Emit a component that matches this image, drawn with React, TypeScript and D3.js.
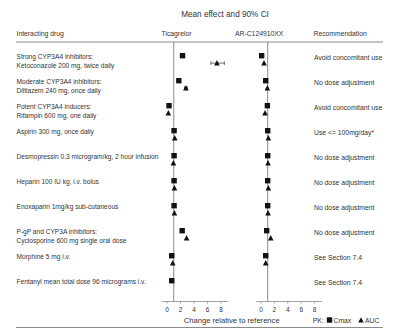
import React from "react";
import * as d3 from "d3";

const drugs: string[][] = [
  ["Strong CYP3A4 inhibitors:", "Ketoconazole 200 mg, twice daily"],
  ["Moderate CYP3A4 inhibitors:", "Diltiazem 240 mg, once daily"],
  ["Potent CYP3A4 inducers:", "Rifampin 600 mg, one daily"],
  ["Aspirin 300 mg, once daily"],
  ["Desmopressin 0.3  microgram/kg, 2 hour infusion"],
  ["Heparin 100 IU kg, i.v. bolus"],
  ["Enoxaparin 1mg/kg sub-cutaneous"],
  ["P-gP and CYP3A inhibitors:", "Cyclosporine 600 mg single oral dose"],
  ["Morphine 5 mg i.v."],
  ["Fentanyl mean total dose 96 micrograms i.v."],
];

const recommendations = [
  "Avoid concomitant use",
  "No dose adjustment",
  "Avoid concomitant use",
  "Use <= 100mg/day*",
  "No dose adjustment",
  "No dose adjustment",
  "No dose adjustment",
  "No dose adjustment",
  "See Section 7.4",
  "See Section 7.4",
];

// Ticagrelor (left panel); null = not shown
const ticaCmax = [2.3, 1.75, 0.3, 1.05, 1.05, 1.05, 1.05, 2.25, 0.7, 0.7];
const ticaAuc: (number | null)[] = [7.4, 2.8, 0.2, 1.15, 0.95, 1.1, 1.1, 2.9, 0.85, null];
const ticaAucLo: (number | null)[] = [6.5, 2.6, null, null, null, null, null, null, null, null];
const ticaAucHi: (number | null)[] = [8.5, 3.0, null, null, null, null, null, null, null, null];

// AR-C124910XX (right panel)
const metCmax: (number | null)[] = [0.1, 0.7, 0.95, 1.0, 1.0, 1.0, 1.0, 0.85, 0.7, null];
const metAuc: (number | null)[] = [0.45, 0.95, 0.6, 1.1, 1.05, 1.1, 1.05, 1.45, 0.7, null];

const ticks = [0, 2, 4, 6, 8];

const W = 400;
const H = 332;
const font = "Liberation Sans, Arial, sans-serif";
const textColor = "#333";
const lineColor = "#8a8a8a";

const Square = ({ x, y }: { x: number; y: number }) => (
  <rect x={x - 2.7} y={y - 2.7} width={5.4} height={5.4} fill="#111" />
);
const Tri = ({ x, y }: { x: number; y: number }) => (
  <path d={`M${x},${y - 3} L${x + 2.8},${y + 2.4} L${x - 2.8},${y + 2.4} Z`} fill="#111" />
);

export default function App() {
  const rowY = d3.scaleLinear().domain([0, 9]).range([55.7, 280.7]);
  const triOff = 7.4;
  const axisY = 301.5;

  const xL = d3.scaleLinear().domain([0, 8]).range([167, 221]);
  const xR = d3.scaleLinear().domain([0, 8]).range([261, 314.6]);

  const panel = (
    x: d3.ScaleLinear<number, number>,
    cmax: (number | null)[],
    auc: (number | null)[],
    lo: (number | null)[] | null,
    hi: (number | null)[] | null,
    key: string
  ) => (
    <g key={key}>
      <line x1={x(1)} x2={x(1)} y1={42} y2={axisY} stroke={lineColor} strokeWidth={1} />
      <line x1={x(-0.7)} x2={x(9.1)} y1={axisY} y2={axisY} stroke={lineColor} strokeWidth={0.8} />
      {ticks.map((t) => (
        <g key={t}>
          <line x1={x(t)} x2={x(t)} y1={axisY} y2={axisY + 2} stroke={lineColor} strokeWidth={0.8} />
          <text x={x(t)} y={axisY + 10} textAnchor="middle" fontSize={6.5} fill={textColor} fontFamily={font}>
            {t}
          </text>
        </g>
      ))}
      {auc.map((v, i) => {
        const l = lo ? lo[i] : null;
        const h = hi ? hi[i] : null;
        if (l == null || h == null) return null;
        const y = rowY(i) + triOff;
        return (
          <g key={"ci" + i} stroke="#333" strokeWidth={0.7}>
            <line x1={x(l)} x2={x(h)} y1={y} y2={y} />
            <line x1={x(l)} x2={x(l)} y1={y - 1.8} y2={y + 1.8} />
            <line x1={x(h)} x2={x(h)} y1={y - 1.8} y2={y + 1.8} />
          </g>
        );
      })}
      {cmax.map((v, i) => (v == null ? null : <Square key={"s" + i} x={x(v)} y={rowY(i)} />))}
      {auc.map((v, i) => (v == null ? null : <Tri key={"t" + i} x={x(v)} y={rowY(i) + triOff} />))}
    </g>
  );

  return (
    <svg width={W} height={H} style={{ position: "absolute", left: 0, top: 0, background: "#fff" }}>
      <text x={225} y={17} textAnchor="middle" fontSize={8.2} fill={textColor} fontFamily={font}>
        Mean effect and 90% CI
      </text>
      <text x={16.5} y={36} fontSize={6.8} fill={textColor} fontFamily={font}>
        Interacting drug
      </text>
      <text x={161.5} y={36} fontSize={6.8} fill={textColor} fontFamily={font}>
        Ticagrelor
      </text>
      <text x={235} y={36} fontSize={6.8} fill={textColor} fontFamily={font}>
        AR-C124910XX
      </text>
      <text x={313.5} y={36} fontSize={6.8} fill={textColor} fontFamily={font}>
        Recommendation
      </text>
      <line x1={16} x2={383} y1={42} y2={42} stroke={lineColor} strokeWidth={1} />
      <line x1={16} x2={383} y1={327.5} y2={327.5} stroke={lineColor} strokeWidth={1} />

      {drugs.map((lines, i) => (
        <text key={"d" + i} fontSize={6.6} fill={textColor} fontFamily={font}>
          {lines.map((ln, j) => (
            <tspan key={j} x={16.5} y={rowY(i) + 3.6 + j * 8.6}>
              {ln}
            </tspan>
          ))}
        </text>
      ))}

      {recommendations.map((r, i) => (
        <text key={"r" + i} x={314} y={rowY(i) + 4.3} fontSize={6.8} fill={textColor} fontFamily={font}>
          {r}
        </text>
      ))}

      {panel(xL, ticaCmax, ticaAuc, ticaAucLo, ticaAucHi, "L")}
      {panel(xR, metCmax, metAuc, null, null, "R")}

      <text x={231.7} y={322.5} textAnchor="middle" fontSize={7.6} fill={textColor} fontFamily={font}>
        Change relative to reference
      </text>
      <text x={312.7} y={322.5} fontSize={6.8} fill={textColor} fontFamily={font}>
        PK:
      </text>
      <Square x={329.5} y={320} />
      <text x={333.5} y={322.5} fontSize={6.8} fill={textColor} fontFamily={font}>
        Cmax
      </text>
      <Tri x={361} y={320.2} />
      <text x={365} y={322.5} fontSize={6.8} fill={textColor} fontFamily={font}>
        AUC
      </text>
    </svg>
  );
}
